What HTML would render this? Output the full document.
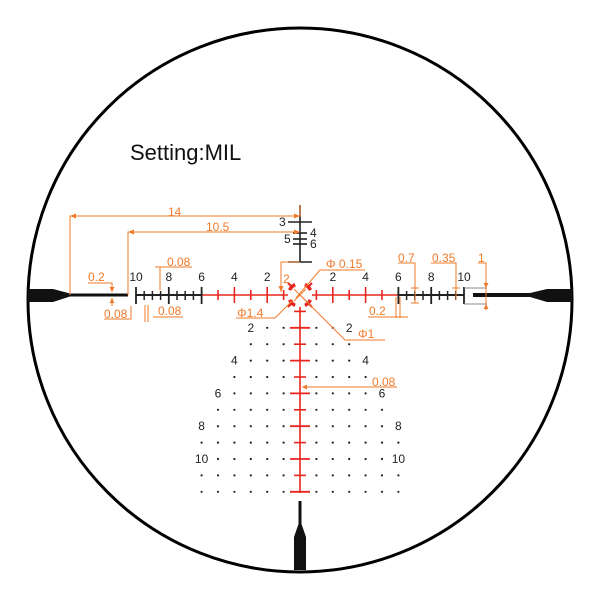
<!DOCTYPE html>
<html><head><meta charset="utf-8"><style>
html,body{margin:0;padding:0;background:#fff;}
svg{display:block;}
text{font-family:"Liberation Sans",sans-serif;}
</style></head><body>
<svg id="s" width="600" height="600" viewBox="0 0 600 600" xmlns="http://www.w3.org/2000/svg">
<circle cx="300" cy="300" r="272" fill="none" stroke="#000" stroke-width="3"/>
<text x="130" y="160" font-size="22" fill="#111">Setting:MIL</text>
<path d="M28 289 L53 289 L70 293.5 L128 293.5 L128 296.5 L70 296.5 L53 302 L28 302 Z" fill="#111"/>
<path d="M572 289 L547 289 L530 293 L473 293 L473 297 L530 297 L547 302 L572 302 Z" fill="#111"/>
<path d="M298.5 501 L301.5 501 L301.5 524 L306 537 L306 570 L294 570 L294 537 L298.5 524 Z" fill="#111"/>
<g stroke="#222" stroke-width="1.6">
<line x1="300" y1="205" x2="300" y2="262"/>
<line x1="288" y1="222" x2="312" y2="222"/>
<line x1="293" y1="233" x2="307" y2="233"/>
<line x1="293" y1="239" x2="307" y2="239"/>
<line x1="293" y1="244" x2="307" y2="244"/>
<line x1="288" y1="262" x2="312" y2="262"/>
</g>
<g font-size="12" fill="#222">
<text x="279" y="226">3</text><text x="310" y="237">4</text><text x="284" y="243">5</text><text x="310" y="248">6</text>
</g>
<g id="g"></g>
<g stroke="#888" stroke-width="1"><line x1="464" y1="288" x2="487" y2="288"/><line x1="464" y1="304" x2="487" y2="304"/></g>
<g stroke="#e8261e" stroke-width="3.5" fill="none">
<path d="M304.9 284.6 A11.5 11.5 0 0 1 310.4 290.1"/>
<path d="M310.4 299.9 A11.5 11.5 0 0 1 304.9 305.4"/>
<path d="M295.1 305.4 A11.5 11.5 0 0 1 289.6 299.9"/>
<path d="M289.6 290.1 A11.5 11.5 0 0 1 295.1 284.6"/>
</g>
<g stroke="#e8261e" stroke-width="2">
<line x1="308" y1="287" x2="312" y2="283"/><line x1="308" y1="303" x2="312" y2="307"/>
<line x1="292" y1="303" x2="288" y2="307"/><line x1="292" y1="287" x2="288" y2="283"/>
</g>
<g stroke="#f07a2a" stroke-width="1" fill="none">
<line x1="294" y1="289" x2="306" y2="301"/><line x1="306" y1="289" x2="294" y2="301"/>
<polyline points="70,295 70,216 300,216 300,205"/>
<polyline points="128,295 128,232 300,232"/>
<polyline points="88,283 112,283 112,292"/><polyline points="112,298 112,306"/>
<polyline points="104,319 131,319 131,306"/>
<polyline points="155,267 192,267"/><line x1="160" y1="267" x2="160" y2="290"/>
<polyline points="153,317 183,317"/><line x1="145" y1="305" x2="145" y2="322"/><line x1="148" y1="305" x2="148" y2="322"/>
<polyline points="300,262 281,262 281,292"/>
<polyline points="365,270 320,270 296,298"/>
<polyline points="236,318 275,318 293,300"/>
<polyline points="385,340 345,340 300,295"/>
<polyline points="302,387 397,387"/>
<polyline points="396,297 396,318"/><polyline points="400,297 400,318"/><line x1="368" y1="317" x2="408" y2="317"/>
<polyline points="398,263 415,263 415,303"/><line x1="411" y1="288" x2="419" y2="288"/><line x1="411" y1="303" x2="419" y2="303"/>
<polyline points="431,263 456,263 456,300"/><line x1="452" y1="288" x2="460" y2="288"/>
<polyline points="478,263 486,263 486,310"/>
</g>
<g fill="#f07a2a" font-size="12">
<path d="M70 216 l6 -2.5 v5z M300 216 l-6 -2.5 v5z M128 232 l6 -2.5 v5z M300 232 l-6 -2.5 v5z M281 292 l-2.5 -6 h5z M112 292 l-2.5 -5 h5z M112 298 l-2.5 5 h5z M486 288 l-2.5 -5 h5z M486 304 l-2.5 5 h5z M302 387 l5 -2.5 v5z"/>
<text x="168" y="216">14</text>
<text x="206" y="231">10.5</text>
<text x="88" y="281">0.2</text>
<text x="104" y="318">0.08</text>
<text x="167" y="266">0.08</text>
<text x="158" y="315">0.08</text>
<text x="283" y="283">2</text>
<text x="326" y="268">Φ 0.15</text>
<text x="237" y="317">Φ1.4</text>
<text x="358" y="338">Φ1</text>
<text x="372" y="386">0.08</text>
<text x="369" y="315">0.2</text>
<text x="398" y="262">0.7</text>
<text x="432" y="262">0.35</text>
<text x="478" y="262">1</text>
</g>
</svg>
<script>
var g=document.getElementById('g'),h='',c=300,cy=295,m=16.4;
function L(x1,y1,x2,y2,col,w){h+='<line x1="'+x1+'" y1="'+y1+'" x2="'+x2+'" y2="'+y2+'" stroke="'+col+'" stroke-width="'+w+'"/>';}
function T(x,y,s,col){h+='<text x="'+x+'" y="'+y+'" font-size="12" fill="'+col+'" text-anchor="middle">'+s+'</text>';}
var R='#e8261e',K='#222';
L(c-6*m,cy,c-12,cy,R,1.6);L(c+12,cy,c+6*m,cy,R,1.6);
L(c-10*m,cy,c-6*m,cy,K,2);L(c+6*m,cy,c+10*m,cy,K,2);
for(var k=1;k<=5;k++){for(var s=-1;s<=1;s+=2){var x=c+s*k*m;if(k%2==0)L(x,287,x,303,R,1.6);else L(x,290,x,300,R,1.6);}}
for(var k=6;k<=10;k+=0.5){for(var s=-1;s<=1;s+=2){var x=c+s*k*m;if(k%2==0)L(x,287,x,304,K,1.8);else L(x,291,x,300,K,1.5);}}
[2,4,6,8,10].forEach(function(k){T(c-k*m,cy-14,k,K);T(c+k*m,cy-14,k,K);});
L(c,307,c,493,R,1.6);
for(var k=1;k<=12;k++){var y=cy+k*m;if(k%2==0)L(c-10,y,c+10,y,R,1.8);else L(c-6,y,c+6,y,R,1.6);}
for(var k=2;k<=12;k++){var y=cy+k*m,n,lab=null;
 if(k%2){n=Math.min(6,(k+3)/2);}else if(k==12){n=6;}else{n=Math.min(5,k/2+1);lab=Math.min(6,k/2+2);}
 for(var j=1;j<=n;j++){h+='<circle cx="'+(c-j*m)+'" cy="'+y+'" r="1.1" fill="#222"/><circle cx="'+(c+j*m)+'" cy="'+y+'" r="1.1" fill="#222"/>';}
 if(lab){T(c-lab*m,y+4,k,K);T(c+lab*m,y+4,k,K);}
}
g.innerHTML=h;
</script>
</body></html>
